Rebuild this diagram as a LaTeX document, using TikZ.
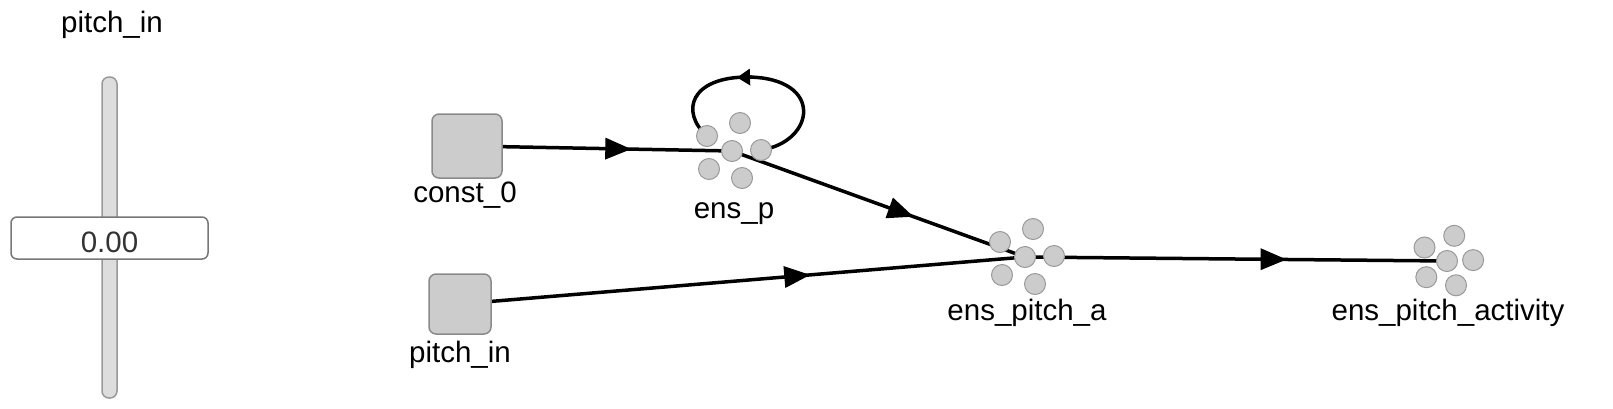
\documentclass[tikz,border=0pt]{standalone}
\usepackage{fontspec}
\setmainfont{Liberation Sans}
\usetikzlibrary{arrows.meta,decorations.markings}
\pgfdeclarelayer{bg}
\pgfsetlayers{bg,main}
\definecolor{neurfill}{HTML}{CCCCCC}
\definecolor{neurbd}{HTML}{999999}
\definecolor{boxbd}{HTML}{8A8A8A}
\definecolor{trackfill}{HTML}{DDDDDD}
\definecolor{trackbd}{HTML}{999999}
\definecolor{slbd}{HTML}{777777}
\definecolor{numtxt}{HTML}{333333}
\tikzset{
  neuron/.style={circle,draw=neurbd,fill=neurfill,line width=1pt,minimum size=21pt,inner sep=0pt},
  inbox/.style={rectangle,rounded corners=7pt,draw=boxbd,fill=neurfill,line width=1.5pt,inner sep=0pt},
  lbl/.style={anchor=base,font=\fontsize{29.5}{35}\selectfont,inner sep=0pt},
  conn/.style={line width=3.5pt,postaction={decorate},
    decoration={markings,mark=at position 0.62 with {\arrow{Triangle[length=26pt,width=21pt]}}}},
  loopline/.style={line width=3.5pt},
}
\newcommand\ensgroup[4]{%
  \begin{scope}[shift={(#2,#3)},scale=#4]
    \node[neuron] (#1-ul) at (-25,-15) {};
    \node[neuron] (#1-ur) at (8,-28) {};
    \node[neuron] (#1-r) at (29,-1) {};
    \node[neuron] (#1-ll) at (-23,18) {};
    \node[neuron] (#1-lr) at (10,27) {};
    \node[neuron] (#1-c) at (0,0) {};
  \end{scope}}
\begin{document}
\begin{tikzpicture}[x=1pt,y=-1pt]
\useasboundingbox (0,0) rectangle (1613,408);
% slider
\node[lbl] (sltitle) at (112,32) {pitch\_in};
\draw[fill=trackfill,draw=trackbd,line width=1.5pt,rounded corners=7pt] (102,77) rectangle (117,398);
\node[rectangle,rounded corners=6pt,draw=slbd,fill=white,line width=1.5pt,minimum width=197pt,minimum height=42pt,inner sep=0pt] (slbox) at (109.5,238) {};
\node[lbl,text=numtxt] (slval) at (109.5,252) {0.00};
% input boxes
\node[inbox,minimum width=70pt,minimum height=64pt] (const0) at (467,146) {};
\node[lbl] (lconst) at (465,202) {const\_0};
\node[inbox,minimum width=62pt,minimum height=60pt] (pin) at (460,304) {};
\node[lbl] (lpin) at (460,362) {pitch\_in};
% ensembles
\ensgroup{ensp}{732}{151}{1}
\node[lbl] (lensp) at (734,218) {ens\_p};
\ensgroup{ensa}{1025}{257}{1}
\node[lbl] (lensa) at (1027,320) {ens\_pitch\_a};
\ensgroup{ensb}{1447}{261}{0.9}
\node[lbl] (lensb) at (1448,320) {ens\_pitch\_activity};
% connectors
\begin{pgfonlayer}{bg}
\draw[conn] (const0.center) -- (ensp-c.center);
\draw[conn] (ensp-c.center) -- (ensa-c.center);
\draw[conn] (pin.center) -- (ensa-c.center);
\draw[conn] (ensa-c.center) -- (ensb-c.center);
\draw[loopline] (ensp-r.center) .. controls (815,142) and (825,78) .. (748,77) .. controls (690,77) and (680,112) .. (ensp-ul.center);
\draw[loopline,-{Triangle[length=13pt,width=16pt]}] (752,77) -- (737,77.5);
\end{pgfonlayer}
\end{tikzpicture}
\end{document}
